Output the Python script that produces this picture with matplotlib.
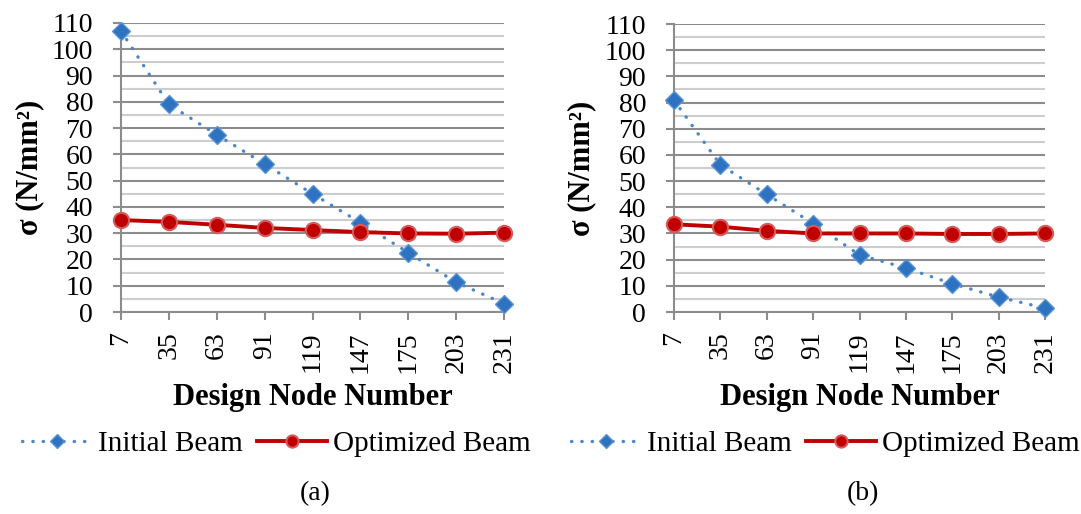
import matplotlib
matplotlib.use("Agg")
import matplotlib.pyplot as plt
from matplotlib.ticker import MultipleLocator

plt.rcParams['font.family'] = ['Liberation Serif', 'DejaVu Serif']

nodes = [7, 35, 63, 91, 119, 147, 175, 203, 231]
node_labels = [str(n) for n in nodes]

initial_a = [107.0, 79.0, 67.5, 56.3, 45.0, 34.0, 22.6, 11.3, 3.2]
optimized_a = [35.0, 34.3, 33.2, 32.0, 31.2, 30.4, 29.9, 29.8, 30.2]

initial_b = [80.9, 56.2, 44.9, 33.8, 21.8, 16.8, 10.8, 5.7, 1.5]
optimized_b = [33.5, 32.6, 31.0, 30.0, 30.0, 30.0, 29.8, 29.8, 30.0]

series_names = ["Initial Beam", "Optimized Beam"]
captions = ["(a)", "(b)"]

W, H = 1081, 514
fig = plt.figure(figsize=(W / 100, H / 100), dpi=100)

BLUE_LINE = '#4A86C8'
BLUE_MARK = '#2E72C2'
RED = '#C00000'
RED_EDGE = '#D65A5A'
GRID_MAJ = '#8C8C8C'
GRID_MIN = '#CDCDCD'

panels = [
    dict(box=(121, 23, 504, 312), init=initial_a, opt=optimized_a, ylx=-0.2376,
         leg=276, cap=315),
    dict(box=(674, 24, 1045, 312), init=initial_b, opt=optimized_b, ylx=-0.248,
         leg=825, cap=863),
]

for i, p in enumerate(panels):
    x0, y0, x1, y1 = p['box']
    ax = fig.add_axes([x0 / W, 1 - y1 / H, (x1 - x0) / W, (y1 - y0) / H])
    ax.set_xlim(nodes[0], nodes[-1])
    ax.set_ylim(0, 110)
    ax.yaxis.set_major_locator(MultipleLocator(10))
    ax.yaxis.set_minor_locator(MultipleLocator(5))
    ax.set_xticks(nodes)
    ax.set_xticklabels(node_labels, rotation=90, va='top', ha='center')
    ax.grid(axis='y', which='minor', color=GRID_MIN, lw=1.5, zorder=0)
    ax.grid(axis='y', which='major', color=GRID_MAJ, lw=1.5, zorder=0)
    ax.set_axisbelow(True)
    for s in ['top', 'right']:
        ax.spines[s].set_visible(False)
    for s in ['left', 'bottom']:
        ax.spines[s].set_color(GRID_MAJ)
        ax.spines[s].set_linewidth(1.5)
    ax.tick_params(axis='y', which='major', length=6, width=1.5, color=GRID_MAJ,
                   labelsize=20, pad=14)
    ax.tick_params(axis='y', which='minor', length=0)
    ax.tick_params(axis='x', which='major', length=6, width=1.5, color=GRID_MAJ,
                   labelsize=20, pad=8)

    ax.plot(nodes, p['init'], color=BLUE_LINE, lw=2.4,
            linestyle=(0, (0.1, 3.0)), dash_capstyle='round',
            marker='D', markersize=9, markerfacecolor=BLUE_MARK,
            markeredgecolor='#5B93D3', markeredgewidth=1.0,
            clip_on=False, zorder=3, label=series_names[0])
    ax.plot(nodes, p['opt'], color=RED, lw=2.8,
            marker='o', markersize=11, markerfacecolor=RED,
            markeredgecolor=RED_EDGE, markeredgewidth=1.5,
            clip_on=False, zorder=4, label=series_names[1])

    ax.set_xlabel("Design Node Number", fontsize=22, fontweight='bold')
    ax.xaxis.set_label_coords(0.5, (y1 - 397) / (y1 - y0))
    ax.xaxis.label.set_va('center')
    ax.set_ylabel("σ (N/mm²)", fontsize=22, fontweight='bold')
    ax.yaxis.set_label_coords(p['ylx'], 0.5)
    ax.yaxis.label.set_va('center')

    handles, labels = ax.get_legend_handles_labels()
    fig.legend(handles, labels, loc='center',
               bbox_to_anchor=(p['leg'] / W, 1 - 444 / H), ncol=2,
               frameon=False, fontsize=21, handlelength=2.4,
               handletextpad=0.2, columnspacing=0.5, borderaxespad=0,
               borderpad=0, markerscale=0.8)
    fig.text(p['cap'] / W, 1 - 494 / H, captions[i], fontsize=20,
             ha='center', va='center')

fig.savefig("out.png", dpi=100)
